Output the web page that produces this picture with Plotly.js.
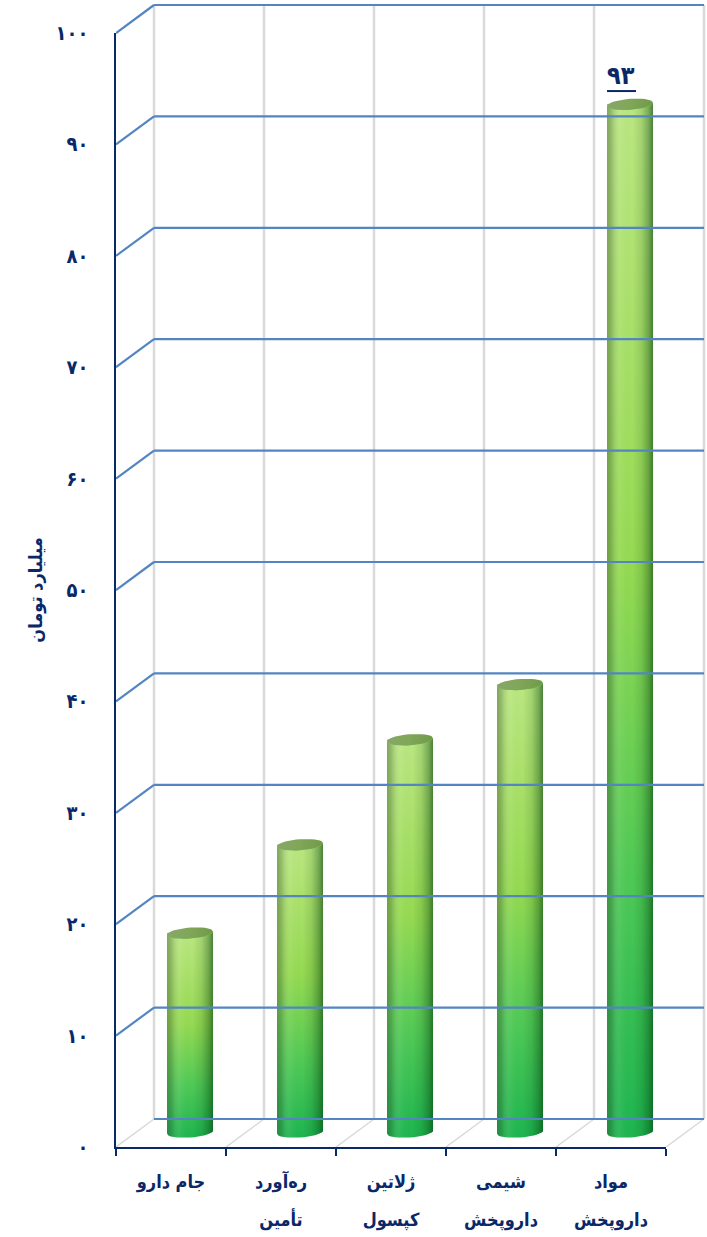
<!DOCTYPE html>
<html><head><meta charset="utf-8">
<script src="https://cdn.plot.ly/plotly-3.0.1.min.js"></script>
<style>html,body{margin:0;padding:0;background:#fff}#c{width:707px;height:1237px}</style>
</head><body><div id="c"></div>
<script>
const line1 = ['جام دارو','ره‌آورد','ژلاتین','شیمی','مواد'];
const line2 = ['','تأمین','کپسول','داروپخش','داروپخش'];
const categories = ['c1','c2','c3','c4','c5'];
const values = [18, 26, 35.5, 40.5, 93];
const yTickVals = [0,10,20,30,40,50,60,70,80,90,100];
const yTickText = ['۰','۱۰','۲۰','۳۰','۴۰','۵۰','۶۰','۷۰','۸۰','۹۰','۱۰۰'];
const yTitle = 'میلیارد تومان';
const labelText = '۹۳';

const NAVY='#0a2768', BLUE='#5285c2', GRAY='#d9d9d9';
const FONT='"DejaVu Sans", "Noto Sans", sans-serif';
const CFONT='"DejaVu Sans Condensed", "DejaVu Sans", sans-serif';
const W=707,H=1237, L=116, BOT=1147;
const plotW=W-L;
const U=110, S=11.14, SB=11.05;
const DX=38/U, DY=28/S;
const CX=0.173;
const A=23/U, B=5.5/SB, T=1.6/SB;

const shapes=[];
const ln=(x0,y0,x1,y1,color,width,xr='x',yr='y')=>shapes.push({type:'line',xref:xr,yref:yr,x0,y0,x1,y1,layer:'above',line:{color,width}});
for(let i=0;i<=5;i++){
  const bx=-0.5+i+DX;
  ln(bx,DY,bx,100+DY,GRAY,2.5);
  ln(-0.5+i,0,bx,DY,GRAY,1.5);
}
yTickVals.forEach(v=>{
  ln(-0.5+DX,v+DY,4.5+DX,v+DY,BLUE,2.2);
  if(v>0) ln(-0.5,v,-0.5+DX,v+DY,BLUE,2.2);
});
ln(4-23/U,93+13.3/SB,4+6/U,93+13.3/SB,NAVY,2,'x2','y2');

const traces=[];
traces.push({type:'scatter',mode:'none',x:[0],y:[0],xaxis:'x',yaxis:'y',hoverinfo:'skip',showlegend:false});
traces.push({type:'bar',x:categories.map((c,i)=>i),y:values,xaxis:'x2',yaxis:'y2',width:46/U,
  marker:{color:'#6fce55',line:{width:0}},hoverinfo:'skip',showlegend:false});
values.forEach((v,i)=>{
  const xs=[],ys=[],cx=[],cy=[];
  for(let d=180;d>=0;d-=10){
    const a=d*Math.PI/180;
    xs.push(i+A*Math.cos(a)); ys.push(-B*Math.sin(a)+T*Math.cos(a));
  }
  for(let d=0;d<=180;d+=10){
    const a=d*Math.PI/180;
    xs.push(i+A*Math.cos(a)); ys.push(v-B*Math.sin(a)+T*Math.cos(a));
  }
  xs.push(xs[0]); ys.push(ys[0]);
  for(let d=0;d<=360;d+=10){
    const a=d*Math.PI/180;
    cx.push(i+A*Math.cos(a)); cy.push(v+B*Math.sin(a)+T*Math.cos(a));
  }
  const base={type:'scatter',mode:'lines',line:{width:0},xaxis:'x2',yaxis:'y2',hoverinfo:'skip',showlegend:false,fill:'toself'};
  traces.push(Object.assign({},base,{x:xs,y:ys,
    fillgradient:{type:'vertical',colorscale:[[0,'#1eb550'],[0.25,'#4fc956'],[0.55,'#95da52'],[0.8,'#abe16c'],[1,'#bbe782']]}}));
  traces.push(Object.assign({},base,{x:xs,y:ys,
    fillgradient:{type:'horizontal',colorscale:[[0,'rgba(50,70,50,0.42)'],[0.1,'rgba(50,70,50,0.25)'],[0.3,'rgba(255,255,255,0.05)'],[0.55,'rgba(0,50,0,0)'],[0.75,'rgba(0,60,10,0.12)'],[0.9,'rgba(0,60,10,0.35)'],[1,'rgba(0,60,10,0.6)']]}}));
  traces.push(Object.assign({},base,{x:cx,y:cy,
    fillgradient:{type:'horizontal',colorscale:[[0,'#86a868'],[0.5,'#80a658'],[1,'#6f9a48']]}}));
});
traces.push({type:'scatter',mode:'none',x:categories,y:values,xaxis:'x3',yaxis:'y3',hoverinfo:'skip',showlegend:false});

const tick=(a,b)=>`<span style="font-size:18px">${a}</span>`+(b?`<br><span style="font-size:18px">${b}</span>`:'');
const hidden={visible:false,fixedrange:true};
const layout={
  width:W,height:H,autosize:false,showlegend:false,
  margin:{l:L,r:0,t:0,b:H-BOT,pad:0},
  paper_bgcolor:'#fff',plot_bgcolor:'rgba(0,0,0,0)',
  font:{family:FONT,color:NAVY},
  xaxis:Object.assign({},hidden,{type:'linear',domain:[0,1],anchor:'y',range:[-0.5,-0.5+plotW/U]}),
  yaxis:Object.assign({},hidden,{type:'linear',domain:[0,1],anchor:'x',range:[0,BOT/S]}),
  xaxis2:Object.assign({},hidden,{type:'linear',domain:[0,1],anchor:'y2',range:[-0.5-CX,-0.5-CX+plotW/U]}),
  yaxis2:Object.assign({},hidden,{type:'linear',domain:[0,1],anchor:'x2',range:[-15/SB,1132/SB]}),
  xaxis3:{type:'category',domain:[0,550/plotW],anchor:'y3',categoryarray:categories,categoryorder:'array',range:[-0.5,4.5],
    tickmode:'array',tickvals:categories,ticktext:categories.map((c,i)=>tick(line1[i],line2[i])),
    tickson:'boundaries',ticks:'outside',ticklen:7,tickwidth:2,tickcolor:NAVY,tickangle:0,ticklabelstandoff:4,
    showline:true,linecolor:NAVY,linewidth:2,showgrid:false,zeroline:false,fixedrange:true,
    tickfont:{family:CFONT,size:29,color:NAVY,weight:'bold'},automargin:false},
  yaxis3:{type:'linear',domain:[0,1114/BOT],anchor:'x3',range:[0,100],
    tickmode:'array',tickvals:yTickVals,ticktext:yTickText,ticks:'',ticklabelstandoff:21,
    showline:true,linecolor:NAVY,linewidth:2.5,showgrid:false,zeroline:false,fixedrange:true,
    tickfont:{family:CFONT,size:20,color:NAVY,weight:'bold'},automargin:false,
    title:{text:yTitle,standoff:8,font:{family:CFONT,size:18,color:NAVY,weight:'bold'}}},
  shapes,
  annotations:[{xref:'x2',yref:'y2',x:4,y:93,text:labelText,showarrow:false,xshift:-9,yshift:29,
    font:{family:CFONT,size:25,color:NAVY,weight:'bold'}}]
};
Plotly.newPlot('c',traces,layout,{displayModeBar:false,staticPlot:true});
</script></body></html>
